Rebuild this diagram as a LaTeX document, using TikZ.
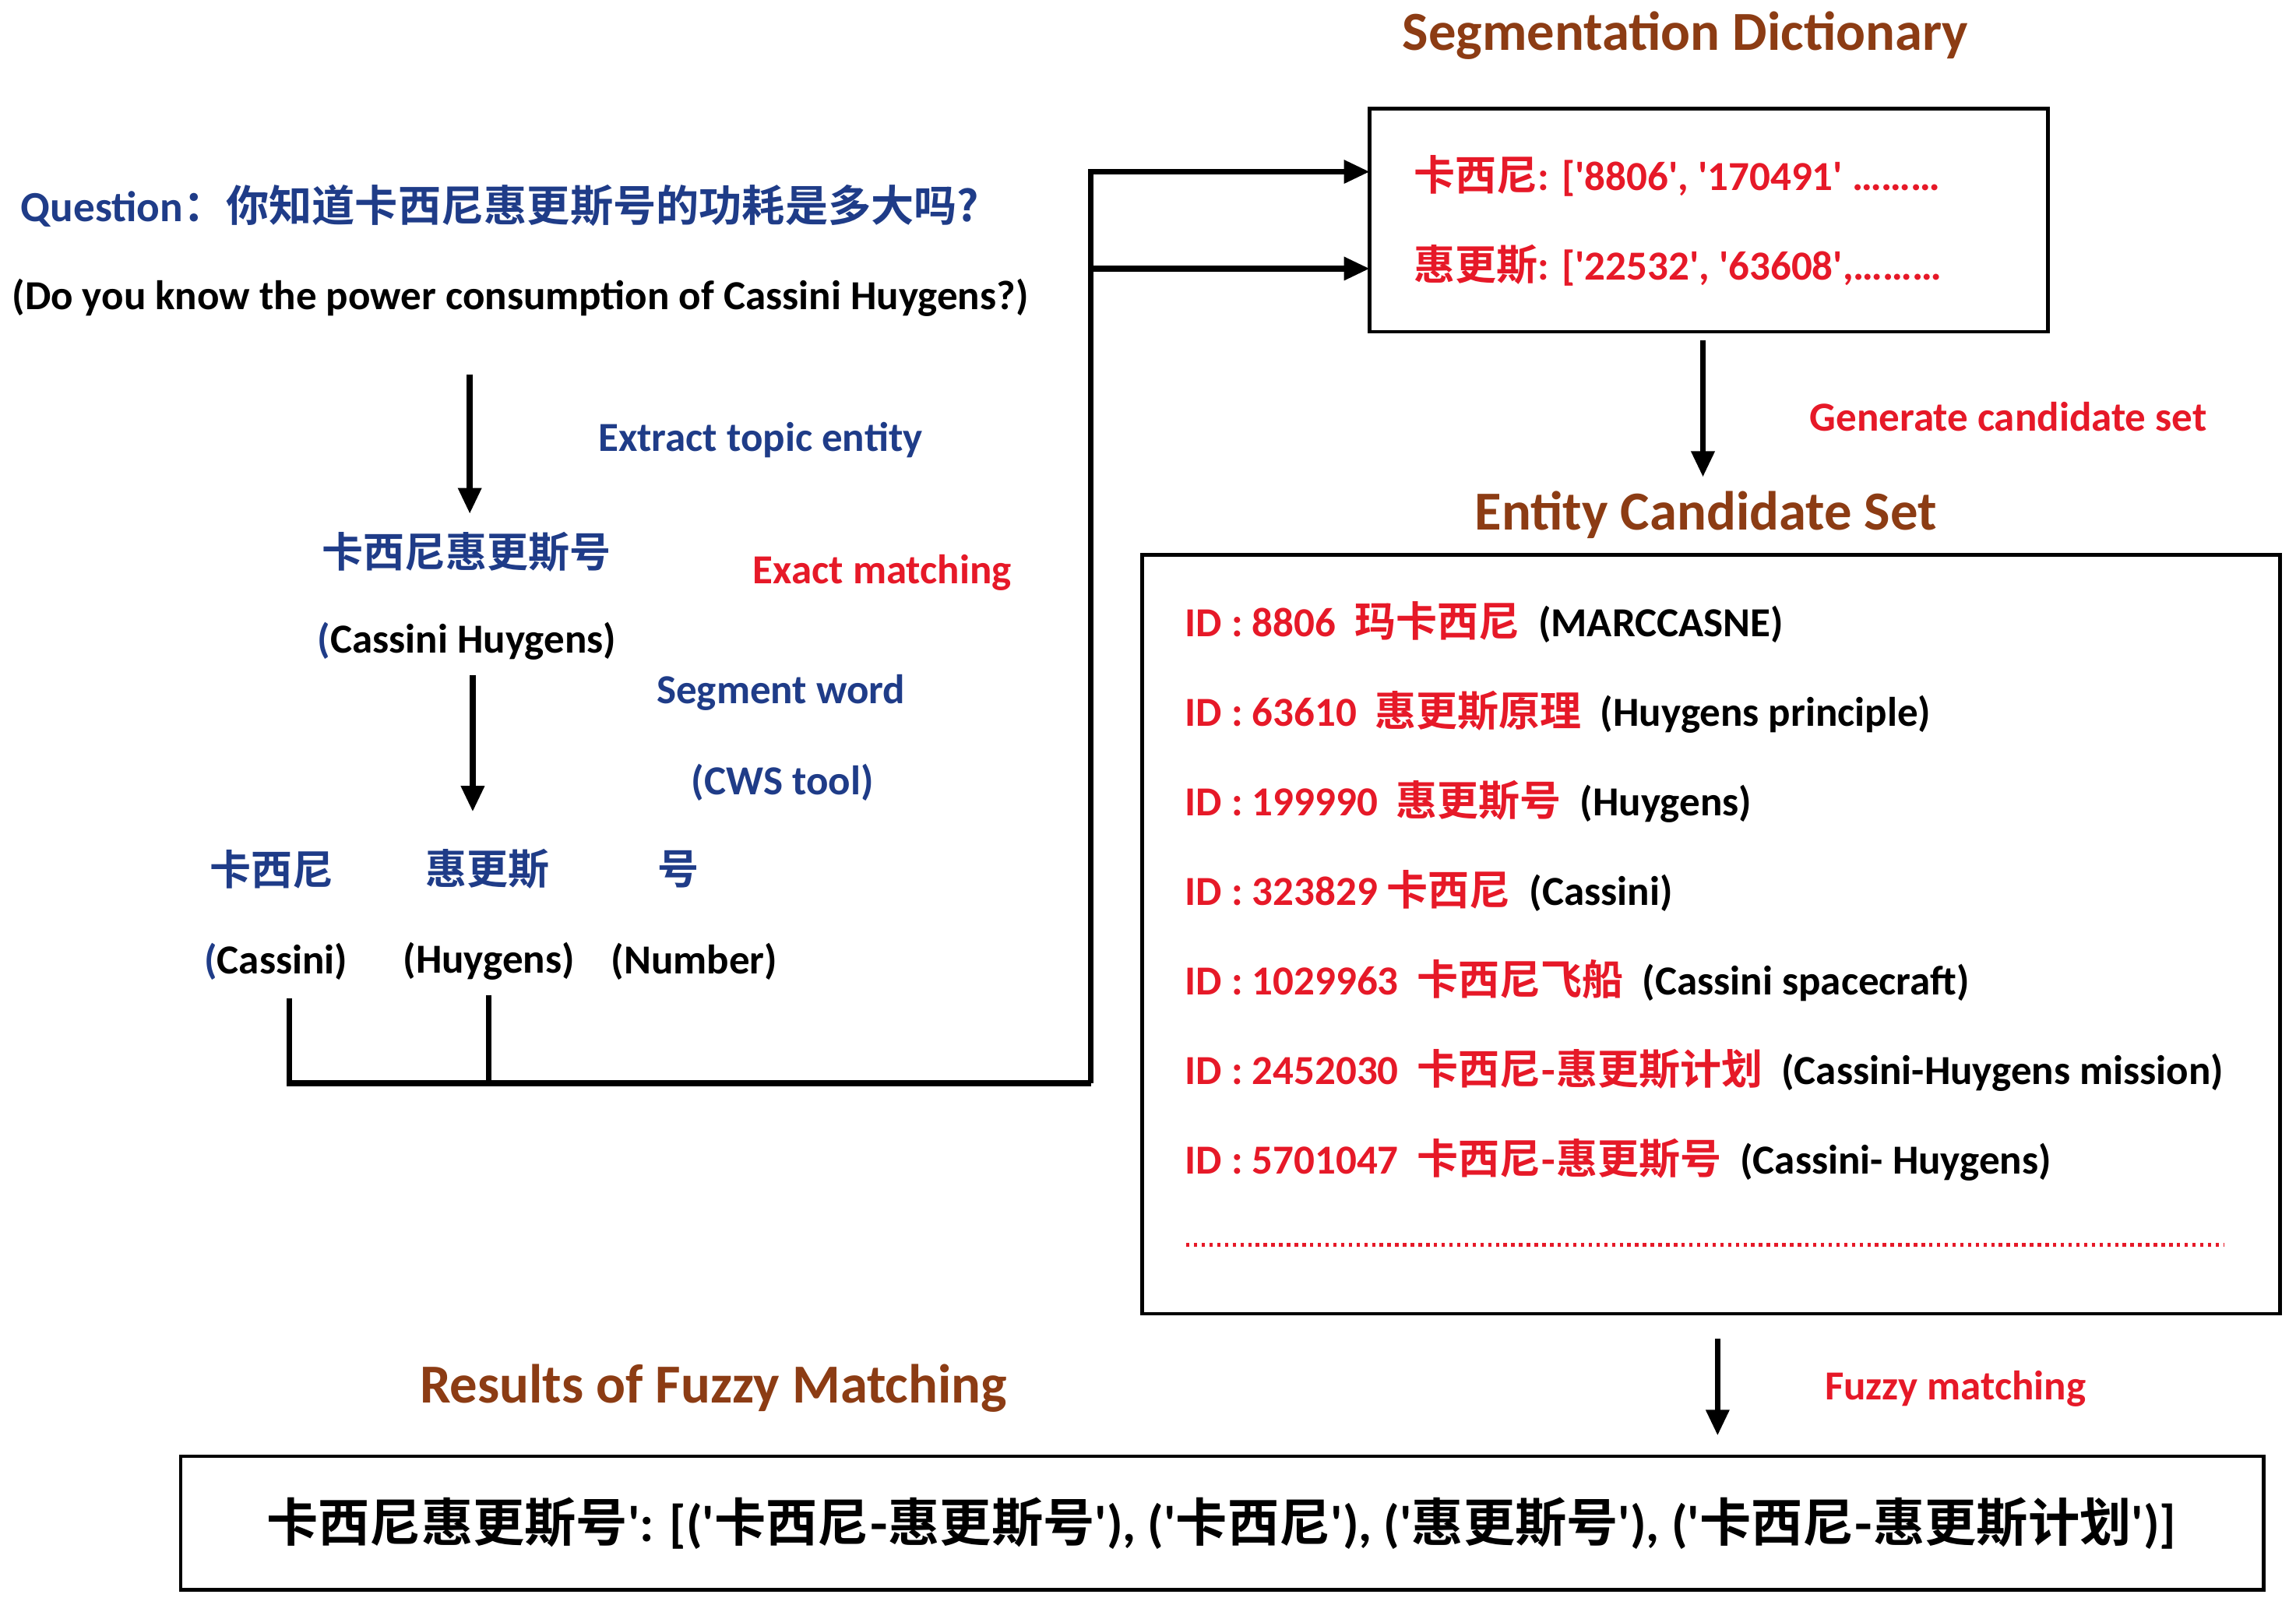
\documentclass[tikz,border=0pt]{standalone}
\usepackage{fontspec}
\setmainfont{Carlito}[BoldFont={Carlito Bold}]
\newfontfamily\cjk{Noto Sans CJK SC}[BoldFont={Noto Sans CJK SC Bold}]
\usetikzlibrary{arrows.meta}
\definecolor{qblue}{RGB}{31,60,136}
\definecolor{qred}{RGB}{230,25,40}
\definecolor{qbrown}{RGB}{140,60,20}
\newcommand{\zh}[1]{{\cjk\bfseries #1}}
\newcommand{\sq}{\textquotesingle}
\begin{document}
\begin{tikzpicture}[x=0.03cm,y=-0.03cm,
  txt/.style={inner sep=0pt,font=\fontsize{24}{28}\selectfont\bfseries},
  big/.style={inner sep=0pt,font=\fontsize{32}{36}\selectfont\bfseries},
  frame/.style={draw,line width=2pt},
  conn/.style={line width=3.4pt},
  arr/.style={line width=3.4pt,-{Triangle[length=15pt,width=13pt]}}]
\useasboundingbox (0,0) rectangle (1564,1098);
% titles
\node[big,qbrown] (t1) at (1148,24) {Segmentation Dictionary};
\node[big,qbrown] (t2) at (1162,351) {Entity Candidate Set};
\node[big,qbrown] (t3) at (486,946) {Results of Fuzzy Matching};
% dictionary
\draw[frame] (933,74) rectangle (1395,226);
\coordinate (d1) at (933,117); \coordinate (d2) at (933,183);
\node[txt,qred,anchor=west] (dl1) at (963,120) {\zh{卡西尼}: [\sq8806\sq, \sq170491\sq\ ………};
\node[txt,qred,anchor=west] (dl2) at (963,181) {\zh{惠更斯}: [\sq22532\sq, \sq63608\sq,………};
% question
\node[txt,qblue,anchor=west,font=\fontsize{25}{28}\selectfont\bfseries] (q) at (14,140) {Question\zh{：你知道卡西尼惠更斯号的功耗是多大吗?}};
\node[txt,anchor=west] (qe) at (8,203) {(Do you know the power consumption of Cassini Huygens?)};
\coordinate (a1s) at (320,255); \coordinate (a1e) at (320,350);
\draw[arr] (a1s) -- (a1e);
\node[txt,qblue] (ex) at (518,300) {Extract topic entity};
\node[txt,qblue] (ent) at (318,376) {\zh{卡西尼惠更斯号}};
\node[txt] (ente) at (318,437) {\textcolor{qblue}{(}Cassini Huygens)};
\node[txt,qred] (em) at (601,390) {Exact matching};
\node[txt,qblue] (sw) at (532,472) {Segment word};
\node[txt,qblue] (cws) at (533,533) {(CWS tool)};
\coordinate (a2s) at (322,460); \coordinate (a2e) at (322,553);
\draw[arr] (a2s) -- (a2e);
\node[txt,qblue] (w1) at (185,592) {\zh{卡西尼}};
\node[txt,qblue] (w2) at (332,592) {\zh{惠更斯}};
\node[txt,qblue] (w3) at (462,592) {\zh{号}};
\node[txt] (e1) at (188,655) {\textcolor{qblue}{(}Cassini)};
\node[txt] (e2) at (333,655) {(Huygens)};
\node[txt] (e3) at (473,655) {(Number)};
\coordinate (c1) at (197,680); \coordinate (c2) at (333,678);
\coordinate (j1) at (197,738); \coordinate (j2) at (333,738);
\coordinate (j3) at (743,738); \coordinate (j4) at (743,117); \coordinate (j5) at (743,183);
\draw[conn] (c1) -- (j1) -- (j3);
\draw[conn] (c2) -- (j2);
\draw[arr] (j3) -- (j4) -- (d1);
\draw[arr] (j5) -- (d2);
% generate
\coordinate (a3s) at (1160,232); \coordinate (a3e) at (1160,325);
\draw[arr] (a3s) -- (a3e);
\node[txt,qred] (gc) at (1368,284) {Generate candidate set};
% candidates
\draw[frame] (778,378) rectangle (1553,895);
\node[txt,anchor=west] (r1) at (807,424) {\textcolor{qred}{ID : 8806 \ \zh{玛卡西尼}} \ (MARCCASNE)};
\node[txt,anchor=west] (r2) at (807,485) {\textcolor{qred}{ID : 63610 \ \zh{惠更斯原理}} \ (Huygens principle)};
\node[txt,anchor=west] (r3) at (807,546) {\textcolor{qred}{ID : 199990 \ \zh{惠更斯号}} \ (Huygens)};
\node[txt,anchor=west] (r4) at (807,607) {\textcolor{qred}{ID : 323829 \zh{卡西尼}} \ (Cassini)};
\node[txt,anchor=west] (r5) at (807,668) {\textcolor{qred}{ID : 1029963 \ \zh{卡西尼飞船}} \ (Cassini spacecraft)};
\node[txt,anchor=west] (r6) at (807,729) {\textcolor{qred}{ID : 2452030 \ \zh{卡西尼-惠更斯计划}} \ (Cassini-Huygens mission)};
\node[txt,anchor=west] (r7) at (807,790) {\textcolor{qred}{ID : 5701047 \ \zh{卡西尼-惠更斯号}} \ (Cassini- Huygens)};
\coordinate (dl) at (808,848); \coordinate (dr) at (1515,848);
\draw[qred,line width=2pt,dash pattern=on 2pt off 2.5pt] (dl) -- (dr);
% fuzzy
\coordinate (a4s) at (1170,912); \coordinate (a4e) at (1170,978);
\draw[arr] (a4s) -- (a4e);
\node[txt,qred] (fm) at (1332,946) {Fuzzy matching};
\draw[frame] (123,992) rectangle (1542,1083);
\node[inner sep=0pt,font=\fontsize{30}{34}\selectfont\bfseries] (res) at (832,1038) {\zh{卡西尼惠更斯号}\sq: [(\sq\zh{卡西尼-惠更斯号}\sq), (\sq\zh{卡西尼}\sq), (\sq\zh{惠更斯号}\sq), (\sq\zh{卡西尼-惠更斯计划}\sq)]};
\end{tikzpicture}
\end{document}
